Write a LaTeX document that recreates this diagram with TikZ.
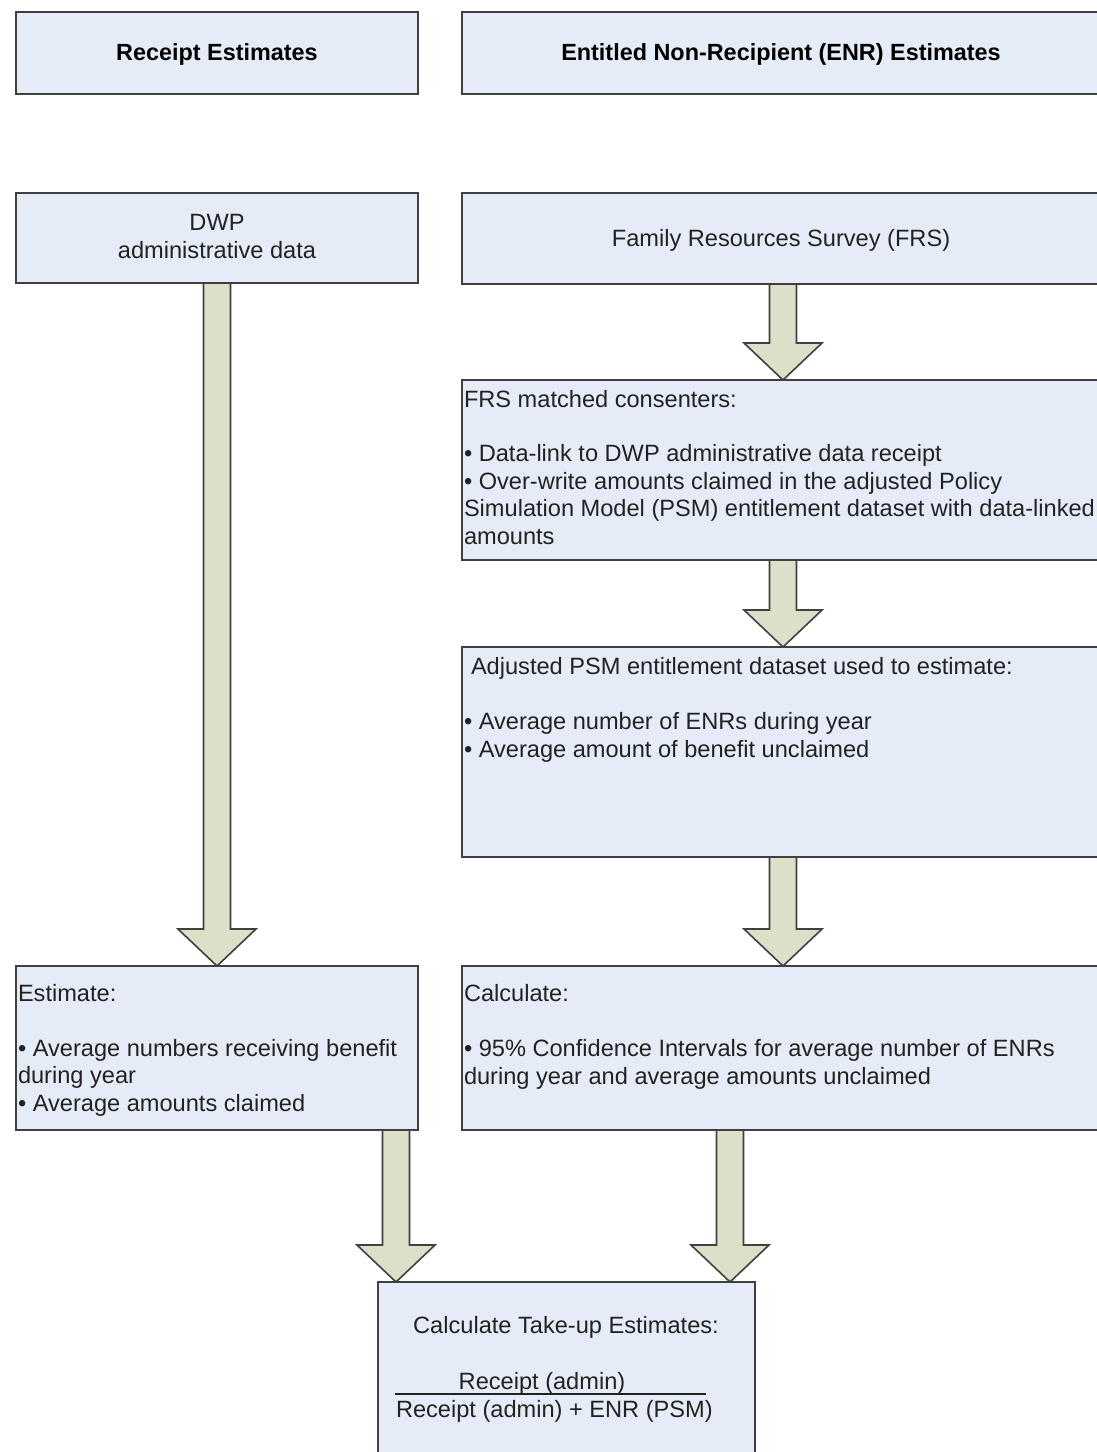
\documentclass[tikz,border=0pt]{standalone}
\usepackage{fontspec}
\setmainfont{Liberation Sans}
\usetikzlibrary{calc}
\definecolor{boxfill}{HTML}{E6ECF7}
\definecolor{boxline}{HTML}{404040}
\definecolor{arrfill}{HTML}{DCE0C8}
\definecolor{txtcol}{HTML}{222222}
\newcommand\barrow[3]{%
  \draw[arrowbody] let \p1=(#2.south), \p2=(#3.north) in
    (#1pt-13.5pt,\y1) -- (#1pt+13.5pt,\y1) -- (#1pt+13.5pt,\y2+37pt)
    -- (#1pt+39pt,\y2+37pt) -- (#1pt,\y2) -- (#1pt-39pt,\y2+37pt)
    -- (#1pt-13.5pt,\y2+37pt) -- cycle;}
\begin{document}
\begin{tikzpicture}[x=1pt,y=-1pt,
  box/.style={draw=boxline, fill=boxfill, line width=1.6pt, rectangle, inner sep=0pt, outer sep=0pt, anchor=north west},
  arrowbody/.style={draw=boxline, fill=arrfill, line width=1.6pt, line join=miter},
  txt/.style={inner sep=0pt, outer sep=0pt, align=left, text=txtcol, font=\fontsize{23.6}{27.4}\selectfont},
  ctxt/.style={txt, align=center},
  title/.style={inner sep=0pt, outer sep=0pt, text=black, font=\fontsize{23.4}{27.4}\selectfont\bfseries}
]
\clip (0,0) rectangle (1097,1452);
\fill[white] (0,0) rectangle (1097,1452);

% boxes
\node[box, minimum width=402pt, minimum height=82pt] (hr) at (16,12) {};
\node[box, minimum width=639pt, minimum height=82pt] (he) at (462,12) {};
\node[box, minimum width=402pt, minimum height=90pt] (dwp) at (16,193) {};
\node[box, minimum width=639pt, minimum height=91pt] (frs) at (462,193) {};
\node[box, minimum width=639pt, minimum height=180pt] (mc) at (462,380) {};
\node[box, minimum width=639pt, minimum height=210pt] (psm) at (462,647) {};
\node[box, minimum width=402pt, minimum height=164pt] (est) at (16,966) {};
\node[box, minimum width=639pt, minimum height=164pt] (calc) at (462,966) {};
\node[box, minimum width=377pt, minimum height=200pt] (tu) at (378,1282) {};

% block arrows
\barrow{217}{dwp}{est}
\barrow{783}{frs}{mc}
\barrow{783}{mc}{psm}
\barrow{783}{psm}{calc}
\barrow{396}{est}{tu}
\barrow{730}{calc}{tu}

% texts (base anchor of a multi-line node = baseline of its last line)
\node[title, anchor=base] (thr) at (217,60) {Receipt Estimates};
\node[title, anchor=base] (the) at (781,60) {Entitled Non-Recipient (ENR) Estimates};
\node[ctxt, anchor=base] (tdwp) at (217,258) {DWP\\administrative data};
\node[txt, anchor=base] (tfrs) at (781,246) {Family Resources Survey (FRS)};
\node[txt, anchor=base west] (tmc) at (464,544) {FRS matched consenters:\\[27.4pt]
• Data-link to DWP administrative data receipt\\
• Over-write amounts claimed in the adjusted Policy\\
Simulation Model (PSM) entitlement dataset with data-linked\\
amounts};
\node[txt, anchor=base west] (tpsm) at (464,757) {\hspace{7pt}Adjusted PSM entitlement dataset used to estimate:\\[27.4pt]
• Average number of ENRs during year\\
• Average amount of benefit unclaimed};
\node[txt, anchor=base west] (test) at (18,1111) {Estimate:\\[27.4pt]
• Average numbers receiving benefit\\
during year\\
• Average amounts claimed};
\node[txt, anchor=base west] (tcalc) at (464,1084) {Calculate:\\[27.4pt]
• 95\% Confidence Intervals for average number of ENRs\\
during year and average amounts unclaimed};
\node[txt, anchor=base] (ttu) at (566,1333) {Calculate Take-up Estimates:};
\node[txt, anchor=base] (tnum) at (542,1389) {Receipt (admin)};
\node[txt, anchor=base west] (tden) at (396,1417) {Receipt (admin) + ENR (PSM)};
\draw[line width=1.4pt, txtcol] (395,1394) -- (706,1394);
\end{tikzpicture}
\end{document}
